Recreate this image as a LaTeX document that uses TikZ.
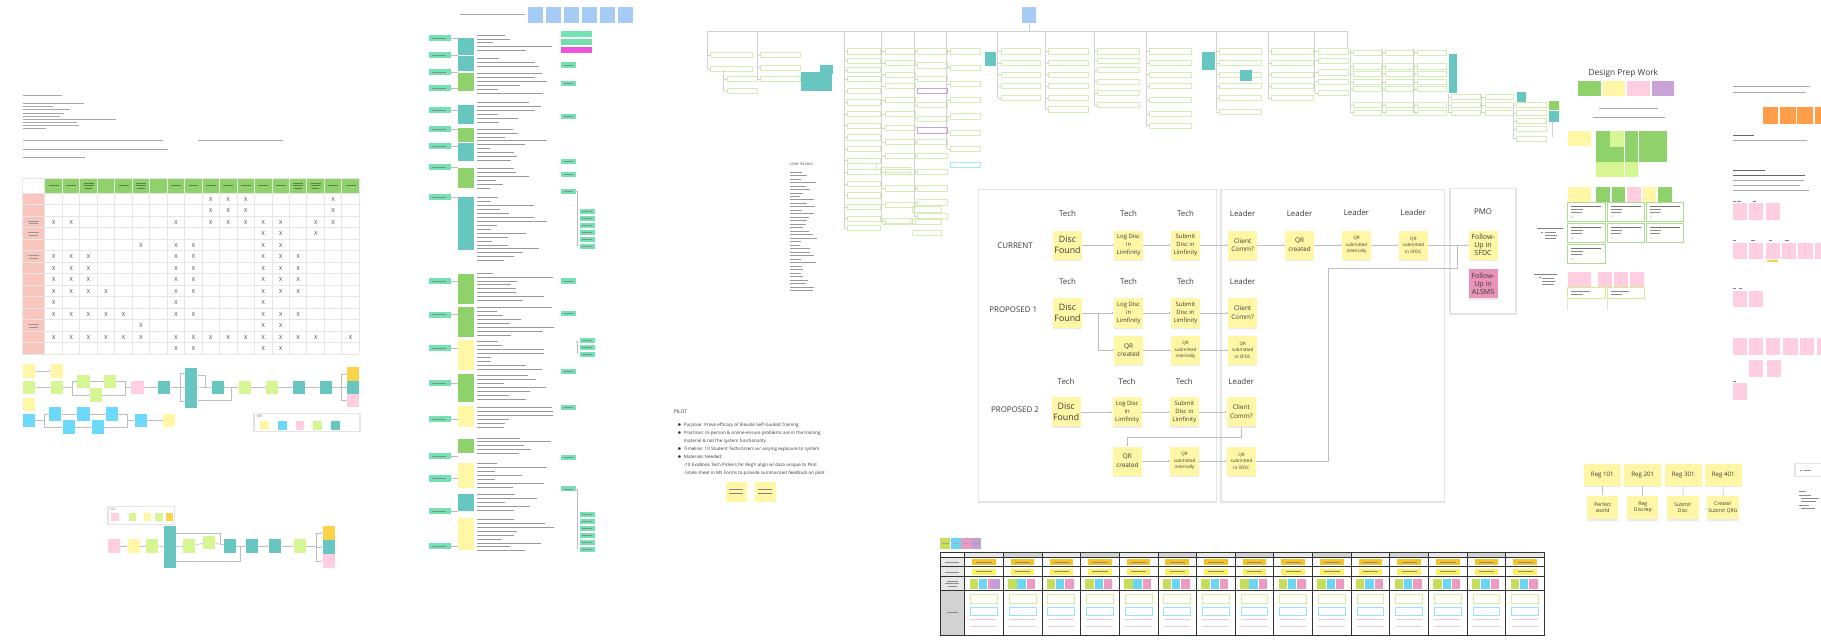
\documentclass[tikz,border=0pt]{standalone}
\usepackage{fontspec}
\setmainfont{Open Sans}
\usetikzlibrary{arrows.meta,shadows}
\definecolor{cyel}{HTML}{FFF7A6}
\definecolor{cpinkd}{HTML}{E993B9}
\definecolor{cteal}{HTML}{67C6C0}
\definecolor{cgreen}{HTML}{8FD16A}
\definecolor{clime}{HTML}{D5F692}
\definecolor{cpink}{HTML}{FFCEE0}
\definecolor{cblue}{HTML}{6CD8FA}
\definecolor{clblue}{HTML}{A6CCF5}
\definecolor{corange}{HTML}{FF9D48}
\definecolor{cpurple}{HTML}{C9A2D6}
\definecolor{cmint}{HTML}{74E3B3}
\definecolor{cmag}{HTML}{EE55DD}
\definecolor{csalmon}{HTML}{F8C6BD}
\definecolor{cgold}{HTML}{FBD34B}
\definecolor{framec}{HTML}{E4E4E4}
\definecolor{conc}{HTML}{BDBDBD}
\definecolor{txtc}{HTML}{3A3A3A}
\definecolor{tline}{HTML}{A8A8A8}
\definecolor{outg}{HTML}{D3EDB3}
\definecolor{gridc}{HTML}{E6E6E6}
\definecolor{hdrline}{HTML}{5E7E45}
\definecolor{tamber}{HTML}{F7C325}
\definecolor{tyel}{HTML}{FFEF5C}
\definecolor{tlime}{HTML}{C6DE5A}
\definecolor{tcyan}{HTML}{6AD6F3}
\definecolor{tpink}{HTML}{EC9ABF}
\definecolor{tpurp}{HTML}{C39ED6}
\definecolor{tgray}{HTML}{D2D2D2}
\definecolor{tgrayl}{HTML}{E8E8E8}
\tikzset{
  stk/.style={fill=cyel, draw=none, minimum width=25pt, minimum height=25pt, inner sep=0pt, align=center, text=txtc,
    drop shadow={shadow xshift=0pt, shadow yshift=-1.3pt, opacity=0.16}},
  lbl/.style={font=\fontsize{6.8}{8}\selectfont, text=txtc},
  fbig/.style={font=\fontsize{7.6}{9.2}\selectfont},
  fmid/.style={font=\fontsize{5.1}{6.9}\selectfont},
  fcc/.style={font=\fontsize{5.5}{7.6}\selectfont},
  fsml/.style={font=\fontsize{3.9}{5.5}\selectfont},
  ffol/.style={font=\fontsize{6.1}{7}\selectfont},
  con/.style={draw=conc, line width=0.6pt, -{Stealth[length=1.6pt,width=1.8pt]}},
  conl/.style={draw=conc, line width=0.6pt},
  frame/.style={draw=framec, line width=1.3pt},
  sq/.style={draw=none, minimum width=10.4pt, minimum height=11.5pt, inner sep=0pt},
  cn/.style={draw=conc, line width=0.5pt, -{Stealth[length=1.3pt,width=1.4pt]}},
  cl/.style={draw=conc, line width=0.5pt},
  tl/.style={draw=tline, line width=0.45pt},
  trect/.style={draw=outg, line width=0.7pt},
  spine/.style={draw=black!18, line width=0.45pt},
  xm/.style={font=\fontsize{4.8}{5}\selectfont, text=txtc, inner sep=0pt},
}
\begin{document}
\begin{tikzpicture}[x=1pt,y=-1pt]
\useasboundingbox (0,0) rectangle (1568,552);
\fill[white] (0,0) rectangle (1568,552);

%================ top-left notes =================
\draw[tl] (20,81.8) -- (53,81.8);
\foreach \yy/\ll in {89/52,91.7/26,94.4/40,97.1/35,99.8/32,102.5/80,105.2/46,107.9/48,110.6/20}{\draw[tl,line width=0.4pt] (20,\yy) -- ++(\ll,0);}
\draw[tl] (20,121.1) -- (140.6,121.1);
\draw[tl] (170.8,121.1) -- (244,121.1);
\draw[tl] (20,128.6) -- (145,128.6);
\draw[tl] (20,135.5) -- (73,135.5);

%================ matrix =================
\foreach \i in {0,...,17}{
  \fill[cgreen] (38.9+15.04*\i,153.7) rectangle ++(14.6,12.2);
}
\foreach \i in {0,1,2,4,5,7,8,9,10,11,12,13,14,15,16,17}{
  \draw[draw=hdrline,line width=0.5pt] (42+15.04*\i,159.8) -- ++(8.5,0);
}
\foreach \i in {2,5,14,15}{
  \draw[draw=hdrline,line width=0.5pt] (42+15.04*\i,157.4) -- ++(8.5,0);
  \draw[draw=hdrline,line width=0.5pt] (43+15.04*\i,162.2) -- ++(6.5,0);
}
\foreach \j in {0,...,13}{
  \fill[csalmon] (19.7,166.6+9.9*\j) rectangle ++(18.8,9.2);
}
\foreach \j in {2,3,5,11}{
  \draw[draw=black!40,line width=0.5pt] (24,170.5+9.9*\j) -- ++(10,0);
  \draw[draw=black!40,line width=0.5pt] (25,172.6+9.9*\j) -- ++(8,0);
}
\foreach \i in {0,...,18}{\draw[draw=gridc,line width=0.8pt] (38.7+15.04*\i,153.5) -- (38.7+15.04*\i,304.8);}
\draw[draw=gridc,line width=0.8pt] (19.5,153.5) -- (19.5,304.8);
\foreach \j in {0,...,14}{\draw[draw=gridc,line width=0.8pt] (19.5,166.2+9.9*\j) -- (309.4,166.2+9.9*\j);}
\draw[draw=gridc,line width=0.8pt] (19.5,153.5) -- (309.4,153.5);
\foreach \r/\cl in {0/{9,10,11,16},1/{9,10,11,16},2/{0,1,7,9,10,11,12,13,15,16},3/{12,13,15},
  4/{5,7,8,12,13},5/{0,1,2,7,8,12,13,14},6/{0,1,2,7,8,12,13,14},7/{0,1,2,7,8,12,13,14},
  8/{0,1,2,3,7,8,12,13,14},9/{0,7,12},10/{0,1,2,3,4,7,8,12,13,14},11/{5,12,13},
  12/{0,1,2,3,4,5,7,8,9,10,11,12,13,14,15,17},13/{7,8,12,13}}{
  \foreach \c in \cl {\node[xm] at (46.2+15.04*\c,171.4+9.9*\r) {X};}
}

%================ small flows under matrix =================
\node[sq,fill=cyel] (ya1) at (25.2,319.5) {};
\node[sq,fill=cyel] (ya2) at (48.8,319.5) {};
\node[sq,fill=clime] (la1) at (25.2,333.5) {};
\node[sq,fill=clime] (la2) at (48.8,333.5) {};
\node[sq,fill=clime] (lb1) at (71.9,328.6) {};
\node[sq,fill=clime] (lb2) at (94.8,328.6) {};
\node[sq,fill=clime] (lb3) at (82.5,340.1) {};
\node[sq,fill=cpink] (pk1) at (118.4,333.5) {};
\node[sq,fill=cteal] (tl1) at (141.5,333.5) {};
\node[sq,fill=cteal,minimum height=34.4pt] (tb) at (164.7,333.8) {};
\node[sq,fill=cteal] (tl2) at (187.8,333.5) {};
\node[sq,fill=clime] (lm1) at (211,333.5) {};
\node[sq,fill=clime] (lm2) at (234.2,333.5) {};
\node[sq,fill=cteal] (tl3) at (257.6,333.5) {};
\node[sq,fill=cteal] (tl4) at (280.5,333.5) {};
\node[sq,fill=cgold] (s1) at (304,322) {};
\node[sq,fill=cteal] (s2) at (304,333.5) {};
\node[sq,fill=cpink] (s3) at (304,345) {};
\draw[cn] (ya1) -- (ya2);
\draw[cn] (la1) -- (la2);
\coordinate (ka) at (62,333.5);
\draw[cl] (la2.east) -- (ka);
\draw[cn] (ka) |- (lb1.west);
\draw[cn] (ka) |- (lb3.west);
\draw[cn] (lb1) -- (lb2);
\coordinate (kb) at (108,333.5);
\draw[cl] (lb2.east) -| (kb);
\draw[cl] (lb3.east) -| (kb);
\draw[cn] (kb) -- (pk1.west);
\draw[cn] (pk1) -- (tl1);
\coordinate (kc) at (155,333.5);
\draw[cl] (tl1.east) -- (kc);
\draw[cn] (kc) |- ([yshift=12pt]tb.west);
\draw[cn] (kc) -- (tb.west);
\draw[cn] (kc) |- ([yshift=-12pt]tb.west);
\draw[cn] (tb) -- (tl2);
\draw[cl] ([yshift=11pt]tb.east) -| (176.5,333.5);
\draw[cl] ([yshift=-11pt]tb.east) -| (198.8,333.5);
\draw[cn] (tl2) -- (lm1);
\draw[cn] (lm1) -- (lm2);
\draw[cn] (lm2) -- (tl3);
\draw[cn] (tl3) -- (tl4);
\coordinate (kd) at (294,333.5);
\draw[cl] (tl4.east) -- (kd);
\draw[cn] (kd) |- (s1.west);
\draw[cn] (kd) -- (s2.west);
\draw[cn] (kd) |- (s3.west);

\node[sq,fill=cyel] (yb) at (25.2,348.2) {};
\node[sq,fill=cblue] (bl1) at (24.7,362.2) {};
\node[sq,fill=cblue] (bl2) at (47.6,356.6) {};
\node[sq,fill=cblue] (bl3) at (59.4,367.8) {};
\node[sq,fill=cblue] (bl4) at (71.9,356.6) {};
\node[sq,fill=cblue] (bl5) at (84.2,367.8) {};
\node[sq,fill=cblue] (bl6) at (96.6,356.6) {};
\node[sq,fill=cblue] (bl7) at (121.2,362.2) {};
\node[sq,fill=cyel] (yb2) at (145.9,362.2) {};
\coordinate (ke) at (38,362.2);
\draw[cl] (bl1.east) -- (ke);
\draw[cn] (ke) |- (bl2.west);
\draw[cn] (ke) |- (bl3.west);
\draw[cn] (bl2) -- (bl4);
\draw[cn] (bl3) -- (bl5);
\draw[cn] (bl4) -- (bl6);
\coordinate (kf) at (110,362.2);
\draw[cl] (bl6.east) -| (kf);
\draw[cl] (bl5.east) -| (kf);
\draw[cn] (kf) -- (bl7.west);
\draw[cn] (bl7) -- (yb2);

% key box
\draw[draw=framec,line width=1.1pt] (218.7,355.9) rectangle (310,371.7);
\node[font=\fontsize{2.8}{3}\selectfont,text=black!60,inner sep=0pt,anchor=west] at (221,358.6) {KEY};
\foreach \kx/\kc in {227.8/cyel,243.3/cblue,258.5/cpink,273.5/clime,289/cteal}{
  \fill[\kc] (\kx-3.6,362.2) rectangle ++(7.2,7.7);
}

%================ lower-left flow =================
\draw[draw=framec,line width=0.9pt] (93,436.5) rectangle (150,452);
\node[font=\fontsize{2.6}{3}\selectfont,text=black!60,inner sep=0pt,anchor=west] at (95,439) {KEY};
\foreach \kx/\kc in {99/cpink,114/clime,127/cyel,137/clime,146/cgold}{\fill[\kc] (\kx-3.3,441.5) rectangle ++(6.6,7.5);}
\node[sq,fill=cpink] (d1) at (98,470) {};
\node[sq,fill=cyel] (d2) at (115,470) {};
\node[sq,fill=clime] (d3) at (131,470) {};
\node[sq,fill=cteal,minimum height=36pt] (d4) at (146,471) {};
\node[sq,fill=clime] (d5) at (163,470) {};
\node[sq,fill=clime] (d6) at (180,467) {};
\node[sq,fill=cteal] (d7) at (198,470) {};
\node[sq,fill=cteal] (d8) at (217,470) {};
\node[sq,fill=cteal] (d9) at (237,470) {};
\node[sq,fill=clime] (d10) at (258,470) {};
\node[sq,fill=cgold] (d11) at (283,459) {};
\node[sq,fill=cteal] (d12) at (283,471) {};
\node[sq,fill=cpink] (d13) at (283,483) {};
\draw[cn] (d1) -- (d2);
\draw[cn] (d2) -- (d3);
\draw[cn] (d3) -- (d4);
\draw[cn] (d4) -- (d5);
\draw[cn] (d5) -- (d6);
\draw[cn] (d6) -- (d7);
\draw[cn] (d7) -- (d8);
\draw[cn] (d8) -- (d9);
\draw[cn] (d9) -- (d10);
\coordinate (kg) at (272,470);
\draw[cl] (d10.east) -- (kg);
\draw[cn] (kg) |- (d11.west);
\draw[cn] (kg) |- (d12.west);
\draw[cn] (kg) |- (d13.west);
\draw[cl] ([yshift=12pt]d4.east) -| (190,468);
\draw[cl] ([yshift=-12pt]d4.east) -| (207,470);

%================ middle column =================
\foreach \bx in {455,470.5,486,501.5,517,532.5}{\fill[clblue] (\bx,6) rectangle ++(12.5,13.5);}
\draw[tl] (396,12.5) -- (452,12.5);
\foreach \yy in {33,47.5,62,76,95,111,126,144,170,242,271,300,330,361,393,412,440,470}{
  \fill[cmint] (369,\yy-2.6) rectangle ++(19,5.2);
  \draw[draw=black!45,line width=0.45pt] (372,\yy) -- ++(12,0);
  \draw[cl] (388,\yy) -- (394,\yy);
}
\foreach \ya/\yb/\bc in {33/47/cteal,48.5/61.5/cteal,63/78/cgreen,90/107/cteal,110/122/cgreen,123/139/cteal,145/162/cgreen,
  170/215/cteal,236/262/cgreen,264/290/cgreen,293/319/cyel,322/346/cgreen,350/368/cyel,378/390/cgreen,399/420/cyel,425/440/cteal,446/474/cyel}{
  \fill[\bc] (394.5,\ya) rectangle (408,\yb);
}
\pgfmathsetseed{42}
\foreach \ya/\yb in {30/46,50/60,63/80,88/108,111/140,145/165,170/226,235/261,265/290,294/319,323/346,351/369,377/391,399/421,426/441,447/476}{
  \pgfmathsetmacro\yc{\ya+3.4}
  \foreach \yy in {\ya,\yc,...,\yb}{
    \pgfmathsetmacro\ll{10+56*rnd}
    \draw[draw=black!40,line width=0.5pt] (411,\yy) -- ++(\ll,0);
  }
}
\fill[cmint] (483,27) rectangle (510,32);
\fill[cmint!80!black!10!cmint] (483,34) rectangle (510,39);
\fill[cmag] (483,40.5) rectangle (510,46);
\foreach \yy in {56,72,100,139,150,165,242,270,320,351,394,421}{
  \fill[cmint] (483,\yy-2.2) rectangle ++(13,4.4);
  \draw[draw=black!45,line width=0.4pt] (485.5,\yy) -- ++(8,0);
}
\foreach \yy in {182,188,194,200,206,212,293,299,305,443,449,455,461,467,473}{
  \fill[cmint] (499,\yy-2.2) rectangle ++(13,4.4);
  \draw[draw=black!45,line width=0.4pt] (501.5,\yy) -- ++(8,0);
}
\draw[cl] (496,165) -- (497,165) -- (497,212);
\draw[cl] (496,294) -- (497,294) -- (497,305);
\draw[cl] (496,421) -- (497,421) -- (497,473);

%================ PILOT =================
\node[font=\fontsize{4.3}{5}\selectfont,text=txtc,anchor=west,inner sep=0pt] (pilot) at (580,354.7) {PILOT};
\node[font=\fontsize{3.9}{6.9}\selectfont,text=txtc,anchor=north west,inner sep=0pt,align=left] (pilottext) at (583,364)
 {$\bullet$\ \ Purpose: Prove efficacy of Elevate Self-Guided Training\\
  $\bullet$\ \ Practices: In-person \& online-ensure problems are in the training\\
  \hphantom{$\bullet$\ \ }material \& not the system functionality\\
  $\bullet$\ \ Timeline: 10 Student Techs/Users w/ varying exposure to system\\
  $\bullet$\ \ Materials Needed:\\
  \hphantom{$\bullet$\ \ }-10 ExoBook Tech Pickers for Reg'n align w/ data unique to Pilot\\
  \hphantom{$\bullet$\ \ }-Smile sheet in MS Forms to provide summarized feedback on pilot};
\foreach \px in {625,650}{
  \fill[cyel] (\px,415) rectangle ++(18,17);
  \draw[draw=black!50,line width=0.5pt] (\px+3,421) -- ++(12,0);
  \draw[draw=black!50,line width=0.5pt] (\px+3,424.5) -- ++(12,0);
}

%================ top tree =================
\fill[clblue] (880,6) rectangle (892,20);
\draw[spine] (886,20) -- (886,27);
\draw[spine] (609,27) -- (1160,27);
\foreach \dx in {609,652,727,759,787,815,859,900,942,987,1047,1092,1132,1160}{\draw[spine] (\dx,27) -- (\dx,42);}
\foreach \cx/\cw/\ys/\ya/\yb in {
  612/36/{45,57}/42/59,
  626/26/{66,76}/60/78,
  655/34/{45,56,66}/42/68,
  730/28/{42,50,58,66,76,86,96,106,116,126,136,146,156,166,176,186,194}/42/196,
  762/26/{42,52,62,72,84,96,108,120,132,146,160,174,188}/42/190,
  790/26/{42,54,66,88,100,120,132,146,160,172,184}/42/186,
  818/26/{42,56,70,84,98,112,126}/42/128,
  862/34/{42,52,62,72,82}/42/84,
  903/34/{42,52,62,72,82,92}/42/94,
  945/36/{42,50,58,68,78,88}/42/90,
  990/36/{42,52,62,72,84,96,106}/42/108,
  1050/36/{42,52,62,72,82,94}/42/96,
  1095/36/{42,52,62,72,82}/42/84,
  1135/26/{42,50,60,68,78}/42/80,
  1165.3/24.3/{43,55,61.7,68.3,74.6,88,94.7}/42/97,
  1193.1/24.7/{43,55,61.7,68.3,74.6,88,94.7}/42/97,
  1220.3/25.3/{43,55,61.7,68.3,74.6,88,94.7}/42/97,
  1250/25/{81.2,88,94.7}/81/97,
  1278.6/24.4/{81.2,88,94.7}/81/97,
  1305.9/25.8/{88.1,95,101.9,109,117.1}/88/120}{
  \draw[spine] (\cx-3,\ya) -- (\cx-3,\yb);
  \foreach \yy in \ys {\draw[trect] (\cx,\yy) rectangle ++(\cw,4.5); \draw[spine] (\cx-3,\yy+2.25) -- (\cx,\yy+2.25);}
}
\draw[draw=cpurple,line width=0.7pt] (790,76) rectangle ++(26,4.5);
\draw[draw=cpurple,line width=0.7pt] (790,110) rectangle ++(26,4.5);
\draw[draw=cblue!60,line width=0.7pt] (818,140) rectangle ++(26,4.5);
\draw[trect] (730,141) rectangle ++(25,5);
\draw[trect] (758,144) rectangle ++(26,4.5);
\draw[trect] (786,178) rectangle ++(25,5);
\draw[trect] (786,188) rectangle ++(25,5);
\draw[trect] (786,198) rectangle ++(25,5);
\draw[trect] (760,188) rectangle ++(24,5);
\fill[cteal] (690,62) rectangle (716,78);
\fill[cteal] (706,56) rectangle (717,64);
\fill[cteal] (848,45) rectangle (858,57);
\fill[cteal] (1035,45) rectangle (1046,60);
\fill[cteal] (1068,60) rectangle (1078,70);
\fill[cteal] (1247.3,46.5) rectangle (1254.2,80.3);
\fill[cteal] (1305.9,78.9) rectangle (1313.6,88.1);
\fill[cgreen] (1334,86.7) rectangle (1342,94.7);
\fill[cteal] (1334,96) rectangle (1342,104.7);
\draw[spine] (1337,104.7) -- (1337,118);
\node[font=\fontsize{3.6}{4}\selectfont,text=black!65,inner sep=0pt,anchor=west] (ua) at (680,141) {User Access};
\foreach \yy in {148,151,...,250}{\pgfmathsetmacro\ll{8+16*rnd}\draw[draw=black!40,line width=0.45pt] (680,\yy) -- ++(\ll,0);}

%================ main process =================
\draw[frame] (842.4,163) rectangle (1047.3,432.4);
\draw[frame] (1051.2,163) rectangle (1244,432.4);
\draw[frame] (1248.5,162.5) rectangle (1305.3,270.4);

\node[lbl] at (874,211.8) {CURRENT};
\node[lbl] at (872.5,267) {PROPOSED 1};
\node[lbl] at (874,353) {PROPOSED 2};
\foreach \lx/\lt in {919.2/Tech,971.8/Tech,1020.8/Tech,1070/Leader,1119/Leader}{\node[lbl] at (\lx,183.5) {\lt};}
\foreach \lx/\lt in {1168/Leader,1217/Leader}{\node[lbl] at (\lx,182.6) {\lt};}
\node[lbl] at (1277,182.5) {PMO};
\foreach \lx/\lt in {919.2/Tech,971.8/Tech,1020.8/Tech,1070/Leader}{\node[lbl] at (\lx,242.8) {\lt};}
\foreach \lx/\lt in {918/Tech,970.5/Tech,1019.8/Tech,1068.8/Leader}{\node[lbl] at (\lx,328.6) {\lt};}

% row 1
\node[stk,fbig] (a1) at (919.2,211) {Disc\\Found};
\node[stk,fmid] (a2) at (971.8,211) {Log Disc\\in\\Limfinity};
\node[stk,fmid] (a3) at (1020.8,211) {Submit\\Disc in\\Limfinity};
\node[stk,fcc] (a4) at (1070,211) {Client\\Comm?};
\node[stk,fcc] (a5) at (1119,211) {QR\\created};
\node[stk,fsml] (a6) at (1168,211) {QR\\submitted\\internally};
\node[stk,fsml] (a7) at (1217,211) {QR\\submitted\\in SFDC};
\node[stk,ffol] (pm1) at (1277,211) {Follow-\\Up in\\SFDC};
\node[stk,ffol,fill=cpinkd] (pm2) at (1277,244.5) {Follow-\\Up in\\ALSMS};
\draw[con] (a1) -- (a2);
\draw[con] (a2) -- (a3);
\draw[con] (a3) -- (a4);
\draw[con] (a4) -- (a5);
\draw[con] (a5) -- (a6);
\draw[con] (a6) -- (a7);
\draw[con] (a7) -- (pm1);

% row 2
\node[stk,fbig] (b1) at (919.2,269.5) {Disc\\Found};
\node[stk,fmid] (b2) at (971.8,269.5) {Log Disc\\in\\Limfinity};
\node[stk,fmid] (b3) at (1020.8,269.5) {Submit\\Disc in\\Limfinity};
\node[stk,fcc] (b4) at (1070,269.5) {Client\\Comm?};
\node[stk,fcc] (b5) at (971.8,301.6) {QR\\created};
\node[stk,fsml] (b6) at (1020.8,301.6) {QR\\submitted\\internally};
\node[stk,fsml] (b7) at (1070,301.6) {QR\\submitted\\in SFDC};
\coordinate (j1) at (945.7,269.5);
\draw[con] (b1) -- (b2);
\draw[con] (j1) |- (b5.west);
\draw[con] (b2) -- (b3);
\draw[con] (b3) -- (b4);
\draw[con] (b5) -- (b6);
\draw[con] (b6) -- (b7);

% row 3
\node[stk,fbig] (c1) at (918,354.7) {Disc\\Found};
\node[stk,fmid] (c2) at (970.5,354.7) {Log Disc\\in\\Limfinity};
\node[stk,fmid] (c3) at (1019.8,354.7) {Submit\\Disc in\\Limfinity};
\node[stk,fcc] (c4) at (1068.8,354.7) {Client\\Comm?};
\node[stk,fcc] (c5) at (970.8,397) {QR\\created};
\node[stk,fsml] (c6) at (1020,397) {QR\\submitted\\internally};
\node[stk,fsml] (c7) at (1069,397) {QR\\submitted\\in SFDC};
\draw[con] (c1) -- (c2);
\draw[con] (c2) -- (c3);
\draw[con] (c3) -- (c4);
\coordinate (j2) at (970.8,376.6);
\draw[conl] (c4.south) |- (j2);
\draw[con] (j2) -- (c5.north);
\draw[con] (c5) -- (c6);
\draw[con] (c6) -- (c7);
\coordinate (j3) at (1143.7,231);
\coordinate (j4) at (1254.8,231);
\draw[conl] (c7.east) -| (j3) -- (j4) -- (j4 |- pm1.west);

%================ bottom table =================
\foreach \lx/\lc in {809.8/tlime,818.7/tcyan,827.6/tpink,836.5/tpurp}{
  \fill[\lc] (\lx,463.5) rectangle ++(8.6,8.9);
  \draw[draw=black!35,line width=0.5pt] (\lx+1.5,468) -- ++(5.6,0);
}
\fill[tgrayl] (809.8,479.8) rectangle (830.6,508.8);
\fill[tgray] (809.8,508.8) rectangle (830.6,547);
\foreach \k in {0,...,14}{
  \pgfmathsetmacro\cx{830.6+33.29*\k}
  \pgfmathsetmacro\hc{mod(\k,2)}
  \ifdim\hc pt<0.5pt \fill[tgrayl] (\cx,475.4) rectangle ++(33.29,4.4); \else \fill[tgray] (\cx,475.4) rectangle ++(33.29,4.4); \fi
  \fill[tamber] (\cx+6.5,481.2) rectangle ++(20.3,5.3);
  \draw[draw=black!45,line width=0.5pt] (\cx+10,483.8) -- ++(13.3,0);
  \fill[tyel] (\cx+6.5,489.6) rectangle ++(20.3,5.3);
  \draw[draw=black!45,line width=0.5pt] (\cx+10,492.2) -- ++(13.3,0);
  \fill[tlime] (\cx+4.2,498.4) rectangle ++(7.2,8.4);
  \fill[tcyan] (\cx+12.2,498.4) rectangle ++(7.2,8.4);
  \fill[tpink] (\cx+20.2,498.4) rectangle ++(7.2,8.4);
  \draw[draw=tlime!60,line width=0.5pt] (\cx+5,512) rectangle ++(23,7.5);
  \draw[draw=tcyan!70,line width=0.5pt] (\cx+5,523) rectangle ++(23,6.5);
  \draw[draw=tpink!55,line width=0.5pt] (\cx+5,533) -- ++(23,0) (\cx+5,539) -- ++(23,0);
}
\fill[tpurp] (853.5,498.4) rectangle ++(7.2,8.4);
\foreach \yy in {475.4,479.8,488.1,496.4,508.8,547}{\draw[draw=black!80,line width=0.75pt] (809.8,\yy) -- (1330,\yy);}
\draw[draw=black!80,line width=0.75pt] (809.8,475.4) -- (809.8,547);
\foreach \k in {0,...,15}{\draw[draw=black!80,line width=0.75pt] (830.6+33.29*\k,475.4) -- (830.6+33.29*\k,547);}
\foreach \yy in {484,492.3}{\draw[draw=black!45,line width=0.4pt] (814,\yy) -- ++(12,0);}
\draw[draw=black!45,line width=0.4pt] (815,500.5) -- ++(10,0) (814,502.6) -- ++(12,0) (816,504.7) -- ++(8,0);
\draw[draw=black!45,line width=0.4pt] (815,527.5) -- ++(10,0);

%================ right area =================
\node[font=\fontsize{7.2}{8}\selectfont,text=txtc] (dpw) at (1397.8,63.1) {Design Prep Work};
\fill[cgreen] (1359,69.7) rectangle (1378.2,82.4);
\fill[cyel] (1380.6,69.7) rectangle (1399.5,82.4);
\fill[cpink] (1401,69.7) rectangle (1420.7,82.4);
\fill[cpurple] (1422.3,69.7) rectangle (1441.8,82.4);
\draw[tl] (1377,93.3) -- (1428,93.3);
\draw[tl] (1371.7,101) -- (1433.6,101);
\fill[cyel] (1349.8,112.8) rectangle (1369.6,125.5);
\foreach \k in {0,2,3,4}{\fill[cgreen] (1374.2+12.3*\k,112.8) rectangle ++(11.8,26.4);}
\fill[clime] (1386.5,112.8) rectangle ++(11.8,13.5);
\fill[cgreen] (1386.5,126.3) rectangle ++(11.8,12.9);
\foreach \k in {0,1,2}{\fill[clime] (1374.2+12.3*\k,139.2) rectangle ++(11.8,13);}
\fill[cyel] (1349.8,160.7) rectangle (1369.6,173.7);
\fill[cgreen] (1374.2,160.7) rectangle (1385.9,173.7);
\fill[cgreen] (1387.7,160.7) rectangle (1399.2,173.7);
\fill[cpink] (1401.2,160.7) rectangle (1412.7,173.7);
\fill[cyel] (1414.4,160.7) rectangle (1425.9,173.7);
\fill[cgreen] (1427.9,160.7) rectangle (1439.4,173.7);
\foreach \ccx/\ccy in {1349.8/174.2,1384/174.2,1417.5/174.2,1349.8/192.3,1384/192.3,1417.5/192.3,1349.8/210.4}{
  \draw[draw=cgreen!75,line width=0.8pt,fill=white] (\ccx,\ccy) rectangle ++(32.4,16.4);
  \draw[draw=black!55,line width=0.5pt] (\ccx+3,\ccy+3) -- ++(26,0);
  \draw[draw=black!45,line width=0.5pt] (\ccx+3,\ccy+6) -- ++(10,0) (\ccx+3,\ccy+8.6) -- ++(9,0);
  \fill[black!10] (\ccx+3,\ccy+11.5) rectangle ++(2.2,2.2);
}
\draw[draw=black!50,line width=0.6pt] (1323.1,196.6) -- (1346.1,196.6);
\draw[draw=black!45,line width=0.5pt] (1327,199.6) -- ++(2,0) (1330,200) -- ++(10,0) (1330,202.6) -- ++(11,0) (1330,205.2) -- ++(10,0);
\draw[draw=black!50,line width=0.6pt] (1321,236) -- (1340.5,236);
\draw[draw=black!45,line width=0.5pt] (1325,239) -- ++(2,0) (1328,239.4) -- ++(10,0) (1328,242) -- ++(11,0) (1328,244.6) -- ++(10,0);
\fill[cpink] (1349.8,234.2) rectangle (1369.6,246.8);
\foreach \ppx in {1376.1,1390,1403.8}{\fill[cpink] (\ppx,234.2) rectangle ++(11.5,12.6);}
\foreach \ccx in {1349.8,1384}{
  \draw[draw=clime!80!black!15!clime,line width=0.8pt] (\ccx,247.7) rectangle ++(32.4,9.5);
  \draw[draw=black!45,line width=0.5pt] (\ccx+3,250.5) -- ++(16,0) (\ccx+3,253.6) -- ++(10,0);
  \draw[draw=black!12,line width=0.5pt] (\ccx,258) -- ++(0,9);
}
% far right
\draw[tl,line width=0.45pt] (1492.4,74.6) -- (1558.5,74.6);
\draw[tl,line width=0.45pt] (1492.4,79.5) -- (1555,79.5);
\foreach \ox/\ow in {1517.7/13.5,1532.6/13.5,1547.5/13.3,1562.5/5.5}{\fill[corange] (\ox,92.4) rectangle ++(\ow,14.4);}
\draw[draw=black!60,line width=0.55pt] (1492,116.8) -- ++(18,0);
\draw[tl,line width=0.45pt] (1492,121.1) -- ++(64,0);
\draw[draw=black!60,line width=0.55pt] (1492,147) -- ++(28,0);
\draw[draw=black!60,line width=0.55pt] (1492,151.3) -- ++(62,0);
\draw[tl,line width=0.45pt] (1492,155.6) -- ++(61,0);
\draw[tl,line width=0.45pt] (1492,159.9) -- ++(58,0);
\draw[tl,line width=0.45pt] (1492,164.2) -- ++(66,0);
\foreach \ppx/\ppy in {1491.9/175,1505.9/175,1520.3/175,
  1491.9/209,1505.9/209,1520.3/209,1534.2/209,1548.5/209,
  1491.9/250.3,1505.9/250.3,
  1491.9/291.3,1505.9/291.3,1520.3/291.3,1535.5/291.3,1549.9/291.3,
  1505.9/310,1521.6/310,1491.9/330}{
  \fill[cpink] (\ppx,\ppy) rectangle ++(12.3,14.4);
}
\fill[cpink] (1562.7,209) rectangle (1568,223.4);
\fill[cpink] (1564.3,291.3) rectangle (1568,305.7);
\fill[cgold] (1521.6,224.3) rectangle ++(9.2,0.9);
\foreach \ppx/\ppy in {1492/173,1496/173,1509/173,1492/207,1508/207,1523/207,1537/207,1492/248.4,1497/248.4,1492/328}{
  \draw[draw=black!50,line width=0.45pt] (\ppx,\ppy) -- ++(3,0);
}
% Reg stickies
\node[stk,minimum width=31.5pt,minimum height=18.7pt,font=\fontsize{5.3}{6}\selectfont] (r1) at (1379.7,408.9) {Reg 101};
\node[stk,minimum width=31.5pt,minimum height=18.7pt,font=\fontsize{5.3}{6}\selectfont] (r2) at (1414.5,408.9) {Reg 201};
\node[stk,minimum width=31.5pt,minimum height=18.7pt,font=\fontsize{5.3}{6}\selectfont] (r3) at (1449.4,408.9) {Reg 301};
\node[stk,minimum width=31.5pt,minimum height=18.7pt,font=\fontsize{5.3}{6}\selectfont] (r4) at (1483.8,408.9) {Reg 401};
\node[stk,minimum width=27pt,minimum height=20pt,font=\fontsize{4.4}{5.6}\selectfont] (q1) at (1380,437) {Perfect\\world};
\node[stk,minimum width=27pt,minimum height=20pt,font=\fontsize{4.4}{5.6}\selectfont] (q2) at (1414.5,437) {Reg\\Discrep};
\node[stk,minimum width=27pt,minimum height=20pt,font=\fontsize{4.4}{5.6}\selectfont] (q3) at (1449,437) {Submit\\Disc};
\node[stk,minimum width=27pt,minimum height=20pt,font=\fontsize{4.4}{5.6}\selectfont] (q4) at (1483.5,437) {Create/\\Submit QRG};
\draw[cl] (r1) -- (q1);
\draw[cl] (r2) -- (q2);
\draw[cl] (r3) -- (q3);
\draw[cl] (r4) -- (q4);
\draw[draw=framec,line width=0.9pt] (1545.6,399) rectangle (1568,410);
\draw[draw=black!45,line width=0.4pt] (1550,404.5) -- ++(2,0) (1553.5,404.5) -- ++(6,0);
\draw[draw=black!45,line width=0.4pt] (1549,423) -- ++(6,0) (1549,426) -- ++(10,0) (1551,429) -- ++(15,0) (1551,432) -- ++(13,0) (1549,435) -- ++(9,0) (1551,438) -- ++(12,0);
\end{tikzpicture}
\end{document}
